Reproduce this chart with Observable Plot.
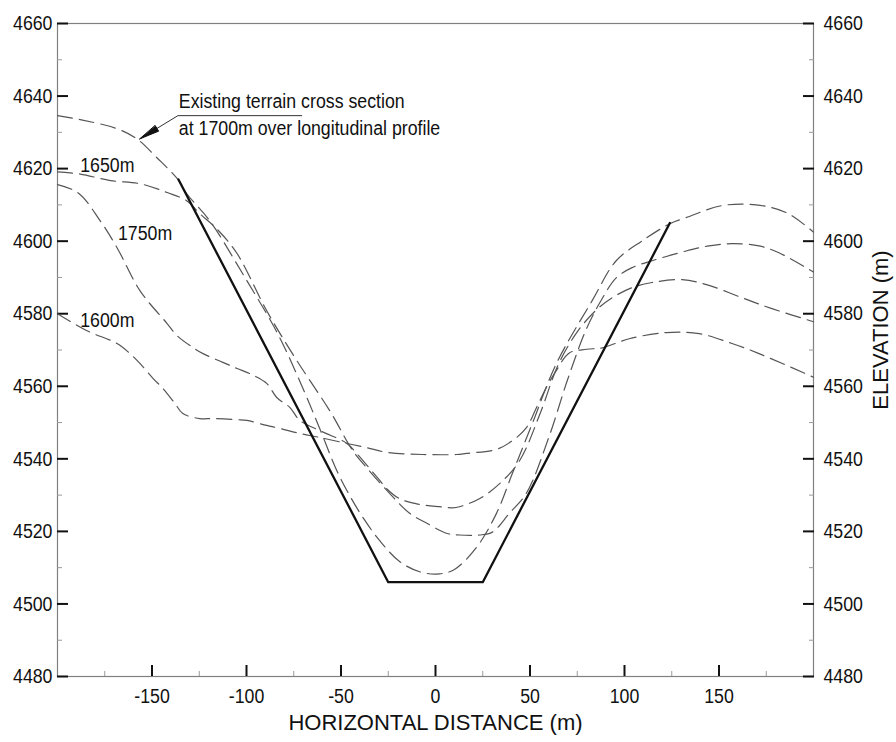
<!DOCTYPE html>
<html><head><meta charset="utf-8">
<script src="https://cdn.jsdelivr.net/npm/d3@7"></script>
<script src="https://cdn.jsdelivr.net/npm/@observablehq/plot@0.6"></script>
<style>
body{margin:0;background:#fff;}
</style></head><body><div id="chart"></div>
<script>
// ---- tick values ----
const xTicks = [-150, -100, -50, 0, 50, 100, 150];
const xMinor = [-175, -125, -75, -25, 25, 75, 125, 175];
const yTicks = [4480, 4500, 4520, 4540, 4560, 4580, 4600, 4620, 4640, 4660];
const yMinor = [4490, 4510, 4530, 4550, 4570, 4590, 4610, 4630, 4650];
const xDomain = [-200, 200];
const yDomain = [4480, 4660];

// ---- design cut (solid) ----
const designX = [-136, -25, 25, 124];
const designY = [4617, 4506, 4506, 4605];

// ---- existing terrain cross sections (dashed) ----
const s1700x = [-200, -188, -168.5, -158, -147.4, -136.3, -131.5, -119.4, -102, -83.5, -70.3, -61, -52, -45, -38, -29.6, -19, -8, 2, 10, 21.7, 32.2, 40.7, 51.2, 63.9, 82.9, 95.6, 109.4, 124, 132.6, 151.6, 169.6, 185.5, 200];
const s1700y = [4634.6, 4633.5, 4631, 4628.2, 4623, 4617, 4613, 4605.6, 4591, 4574.5, 4559.6, 4548, 4536.5, 4529.5, 4523.5, 4517.5, 4511.7, 4508.8, 4508.3, 4509.5, 4515.6, 4524.9, 4536, 4549.7, 4566.2, 4583.6, 4594.6, 4600.1, 4604.8, 4606.5, 4609.8, 4610, 4607.9, 4602.5];

const s1650x = [-200, -188, -172, -156, -142, -131.5, -124.7, -115, -105, -89.3, -73.4, -56, -43.8, -36.5, -24.3, -13.7, -4.8, 5.8, 12.7, 23.2, 30.1, 39.1, 48.1, 60, 70, 80, 88, 95.6, 104, 114.6, 132.6, 144.7, 156.9, 171.2, 181.7, 200];
const s1650y = [4619.1, 4618.5, 4616.7, 4615.8, 4613.4, 4611.1, 4607.6, 4603, 4596.6, 4580.8, 4567.1, 4553.3, 4542.3, 4537.6, 4530.5, 4525, 4522.3, 4519.5, 4519, 4519, 4519.8, 4525, 4530.5, 4546, 4562, 4576, 4584, 4589.9, 4592.7, 4594.6, 4597.3, 4598.7, 4599.3, 4598.7, 4596.8, 4591.5];

const s1750x = [-200, -189, -177.4, -168.5, -156.3, -142, -136.8, -128.4, -123, -112.5, -105, -98.3, -89.3, -84, -77.1, -71.8, -60, -47, -41.7, -34.9, -29.6, -25.9, -19, -10, 2.1, 9, 12.7, 23.2, 33.8, 44.4, 55, 65, 75, 85, 93.5, 104, 114.6, 130.5, 144.7, 162.2, 178, 200];
const s1750y = [4615.6, 4613.3, 4605.6, 4598.2, 4586.3, 4577.3, 4574, 4570.7, 4569, 4566.6, 4564.9, 4563.5, 4560.8, 4556.9, 4554.2, 4550.6, 4547.5, 4544.3, 4541.5, 4537.4, 4534.1, 4531.8, 4529, 4527.6, 4526.8, 4526.5, 4526.8, 4529, 4533.1, 4539.4, 4552, 4566, 4575, 4581, 4584.4, 4587.2, 4588.6, 4589.4, 4587.8, 4584.4, 4581.4, 4577.8];

const s1600x = [-200, -184.4, -168.5, -161.6, -156.4, -149.5, -144.2, -137.9, -133.7, -124.7, -117.8, -105.1, -99.8, -89.3, -82.4, -71.8, -61.3, -49.1, -36.5, -25.9, -6.9, 11.1, 16.4, 32.2, 40.7, 48.1, 53.4, 58.6, 63.9, 70.8, 80, 88.2, 102.5, 122, 139.5, 156.9, 171.2, 200];
const s1600y = [4580, 4575.3, 4571.8, 4569, 4566.3, 4562.2, 4559.4, 4555.3, 4552.5, 4551.1, 4551.1, 4550.8, 4550.6, 4549.2, 4548.4, 4547, 4545.9, 4544.5, 4543.1, 4541.8, 4541.2, 4541.2, 4541.5, 4542.6, 4545, 4548.6, 4554.1, 4559.6, 4564.3, 4569.2, 4570.2, 4570.6, 4573.1, 4574.8, 4574.5, 4571.8, 4569, 4562.5];

// ---- labels ----
const secLabels = ["1650m", "1750m", "1600m"];
const secLabelX = [-188, -168, -188];
const secLabelY = [4620.8, 4602.2, 4578.2];

const noteLines = ["Existing terrain cross section", "at 1700m over longitudinal profile"];
const noteX = [-135.8, -135.8];
const noteY = [4638.6, 4631.2];
// leader: shoulder end, elbow, arrow tip
const leaderX = [-70.8, -136.3, -156.4];
const leaderY = [4634.6, 4634.6, 4628.2];

const xTitle = "HORIZONTAL DISTANCE (m)";
const yTitle = "ELEVATION (m)";

// ---- layout ----
const W = 896, H = 742, mL = 57, mR = 83, mT = 23, mB = 66;
const FONT = '"Liberation Sans","Arial",sans-serif';
const NARROW = 0.845; // horizontal condensing of label text

const toPts = (xs, ys) => xs.map((x, i) => ({x, y: ys[i]}));
const design = toPts(designX, designY);
const sections = [
  ...toPts(s1700x, s1700y).map(d => ({...d, s: "1700m"})),
  ...toPts(s1650x, s1650y).map(d => ({...d, s: "1650m"})),
  ...toPts(s1750x, s1750y).map(d => ({...d, s: "1750m"})),
  ...toPts(s1600x, s1600y).map(d => ({...d, s: "1600m"}))
];
const secText = secLabels.map((t, i) => ({t, x: secLabelX[i], y: secLabelY[i]}));
const noteText = noteLines.map((t, i) => ({t, x: noteX[i], y: noteY[i]}));
const leader = toPts(leaderX, leaderY);

// arrowhead triangle derived from leader direction, in data units
const kx = (W - mL - mR) / (xDomain[1] - xDomain[0]);
const ky = (H - mT - mB) / (yDomain[1] - yDomain[0]);
const tip = leader[2], elbow = leader[1];
const px = (elbow.x - tip.x) * kx, py = -(elbow.y - tip.y) * ky;
const len = Math.hypot(px, py), ux = px / len, uy = py / len;
const AL = 20, AW = 3.2;
const b1 = [ux * AL - uy * AW, uy * AL + ux * AW];
const b2 = [ux * AL + uy * AW, uy * AL - ux * AW];
const arrowHead = [
  {x: tip.x, y: tip.y},
  {x: tip.x + b1[0] / kx, y: tip.y - b1[1] / ky},
  {x: tip.x + b2[0] / kx, y: tip.y - b2[1] / ky}
];

const fmt = d => String(d);

const chart = Plot.plot({
  width: W, height: H,
  marginLeft: mL, marginRight: mR, marginTop: mT, marginBottom: mB,
  style: {fontFamily: FONT, fontSize: "21px", background: "#fff", color: "#111"},
  x: {domain: xDomain},
  y: {domain: yDomain},
  marks: [
    Plot.frame({stroke: "#808080", strokeWidth: 1.2}),
    // minor ticks (inward)
    Plot.axisY(yMinor, {anchor: "left", tickSize: 5, dx: 5, stroke: "#9a9a9a", fill: "none", label: null}),
    Plot.axisY(yMinor, {anchor: "right", tickSize: 5, dx: -5, stroke: "#9a9a9a", fill: "none", label: null}),
    Plot.axisX(xMinor, {anchor: "bottom", tickSize: 5, dy: -5, stroke: "#9a9a9a", fill: "none", label: null}),
    // major ticks (inward)
    Plot.axisY(yTicks, {anchor: "left", tickSize: 11, dx: 11, stroke: "#111", strokeWidth: 2, fill: "none", label: null}),
    Plot.axisY(yTicks, {anchor: "right", tickSize: 11, dx: -11, stroke: "#111", strokeWidth: 2, fill: "none", label: null}),
    Plot.axisX(xTicks, {anchor: "bottom", tickSize: 11, dy: -11, stroke: "#111", strokeWidth: 2, fill: "none", label: null}),
    // tick labels
    Plot.axisY(yTicks, {anchor: "left", tickSize: 0, tickPadding: 5, tickFormat: fmt, fontSize: 21, fill: "#111", label: null}),
    Plot.axisY(yTicks, {anchor: "right", tickSize: 0, tickPadding: 10, tickFormat: fmt, fontSize: 21, fill: "#111", label: null}),
    Plot.axisX(xTicks, {anchor: "bottom", tickSize: 0, tickPadding: 12, tickFormat: fmt, fontSize: 21, fill: "#111", label: null}),
    // axis titles
    Plot.text([xTitle], {frameAnchor: "bottom", dy: 53, fontSize: 22, fill: "#111"}),
    Plot.text([yTitle], {frameAnchor: "right", textAnchor: "middle", lineAnchor: "middle", dx: 67, dy: -20, rotate: -90, fontSize: 22, fill: "#111"}),
    // terrain sections
    Plot.line(sections, {x: "x", y: "y", z: "s", stroke: "#555", strokeWidth: 1.2, strokeDasharray: "15,7", curve: "catmull-rom"}),
    // design cut
    Plot.line(design, {x: "x", y: "y", stroke: "#111", strokeWidth: 2.3}),
    // section labels
    Plot.text(secText, {x: "x", y: "y", text: "t", textAnchor: "start", fontSize: 21, fill: "#111"}),
    // annotation
    Plot.text(noteText, {x: "x", y: "y", text: "t", textAnchor: "start", fontSize: 21, fill: "#111"}),
    Plot.line(leader, {x: "x", y: "y", stroke: "#333", strokeWidth: 1}),
    Plot.line(arrowHead, {x: "x", y: "y", stroke: "#111", fill: "#111", strokeWidth: 1, curve: "linear-closed"})
  ]
});
// condense label glyphs horizontally (the reference uses a narrow face)
chart.querySelectorAll("text").forEach(t => {
  const s = t.textContent;
  if (s === xTitle || s === yTitle) return;
  const tr = t.getAttribute("transform") || "";
  t.setAttribute("transform", (tr + ` scale(${NARROW},1)`).trim());
});
document.getElementById("chart").append(chart);
</script>
</body></html>
